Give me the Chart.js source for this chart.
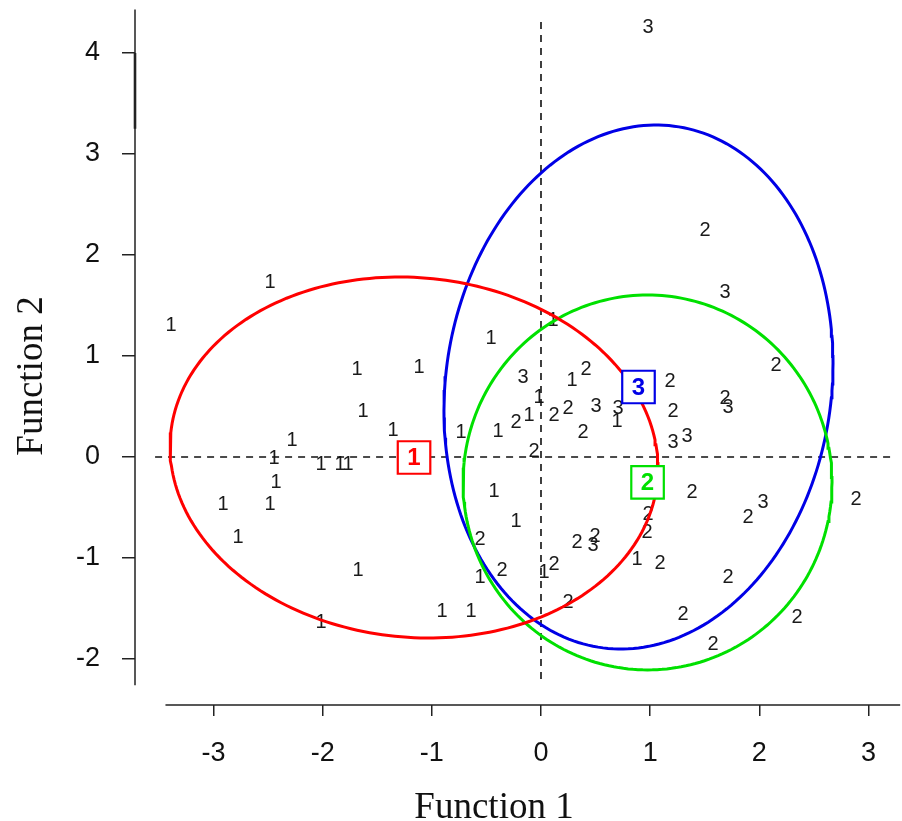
<!DOCTYPE html>
<html>
<head>
<meta charset="utf-8">
<title>Discriminant functions</title>
<script src="https://cdn.jsdelivr.net/npm/chart.js@4.4.1/dist/chart.umd.min.js"></script>
<style>
    html, body { margin: 0; padding: 0; background: #fff; }
    canvas { display: block; }
</style>
</head>
<body>
<canvas id="lda" width="902" height="821"></canvas>
<script>
// axis ticks
const xTicks = [-3, -2, -1, 0, 1, 2, 3];
const yTicks = [-2, -1, 0, 1, 2, 3, 4];

// case scores on the two discriminant functions, per group
const group1X = [-3.389, -2.482, -1.685, -1.118, -1.630, -1.356, -2.281, -2.446, -2.015, -1.841, -1.768,
    -2.427, -2.913, -2.482, -2.775, -1.676, -2.015, -0.907, -0.641, -0.733, -0.458, 0.110, -0.394,
    -0.110, -0.018, 0.284, 0.696, -0.431, -0.229, -0.559, 0.027, 0.879];
const group1Y = [1.307, 1.723, 0.871, 0.891, 0.455, 0.267, 0.168, -0.010, -0.079, -0.079, -0.079,
    -0.257, -0.475, -0.475, -0.792, -1.119, -1.634, -1.525, -1.525, 0.238, 1.178, 1.356, 0.248,
    0.416, 0.594, 0.762, 0.347, -0.337, -0.634, -1.188, -1.139, -1.010];

const group2X = [0.412, 0.247, 0.119, -0.229, 0.385, -0.064, 1.182, 1.209, 1.685, 2.153, 1.502,
    1.383, 0.980, 0.971, 1.090, -0.559, 0.330, 0.495, -0.357, 0.119, 0.247, 1.301, 1.896, 2.885,
    1.713, 2.345, 1.576];
const group2Y = [0.871, 0.485, 0.416, 0.337, 0.238, 0.050, 0.743, 0.446, 0.584, 0.911, 2.238,
    -0.347, -0.574, -0.743, -1.050, -0.812, -0.842, -0.782, -1.119, -1.069, -1.436, -1.564, -0.594,
    -0.416, -1.188, -1.584, -1.861];

const group3X = [0.980, 1.685, -0.165, 0.504, 0.705, 1.713, 1.209, 1.337, 0.476, 2.034];
const group3Y = [4.257, 1.624, 0.792, 0.505, 0.485, 0.495, 0.139, 0.208, -0.881, -0.446];

// group centroids and their 95% ellipses (half extents along x / y, tilt as correlation)
const groupNames = ['1', '2', '3'];
const groupColors = ['#ff0000', '#00e000', '#0000e6'];
const centroidX = [-1.163, 0.976, 0.893];
const centroidY = [-0.005, -0.252, 0.693];
const ellipseHalfW = [2.235, 1.69, 1.782];
const ellipseHalfH = [1.787, 1.856, 2.594];
const ellipseTilt = [-0.06, 0.0, 0.09];

// extents of the axis lines and reference lines
const xAxisSpan = [-3.44, 3.29];
const yAxisSpan = [-2.26, 4.43];
const xZeroSpan = [-3.535, 3.224];
const yZeroSpan = [-2.257, 4.307];

function ellipsePoints(i) {
    const d = Math.acos(ellipseTilt[i]);
    const pts = [];
    for (let k = 0; k <= 240; k++) {
        const t = k / 240 * Math.PI * 2;
        pts.push({
            x: centroidX[i] + ellipseHalfW[i] * Math.cos(t),
            y: centroidY[i] + ellipseHalfH[i] * Math.cos(t - d)
        });
    }
    return pts;
}

function toPoints(xs, ys) {
    return xs.map((x, i) => ({ x: x, y: ys[i] }));
}

const groupData = [toPoints(group1X, group1Y), toPoints(group2X, group2Y), toPoints(group3X, group3Y)];

const datasets = [];

groupData.forEach((pts, i) => {
    datasets.push({
        label: 'Group ' + groupNames[i],
        data: pts,
        pointRadius: 0,
        caseLabel: groupNames[i],
        order: 3
    });
});

groupNames.forEach((name, i) => {
    datasets.push({
        label: 'Ellipse ' + name,
        data: ellipsePoints(i),
        showLine: true,
        pointRadius: 0,
        borderColor: groupColors[i],
        borderWidth: 3,
        tension: 0,
        fill: false,
        order: 1
    });
});

datasets.push({
    label: 'x = 0',
    data: [{ x: 0, y: yZeroSpan[1] }, { x: 0, y: yZeroSpan[0] }],
    showLine: true, pointRadius: 0, borderColor: '#111', borderWidth: 1.6,
    borderDash: [7, 6], order: 2
});
datasets.push({
    label: 'y = 0',
    data: [{ x: xZeroSpan[0], y: 0 }, { x: xZeroSpan[1], y: 0 }],
    showLine: true, pointRadius: 0, borderColor: '#111', borderWidth: 1.6,
    borderDash: [7, 6], order: 2
});

groupNames.forEach((name, i) => {
    datasets.push({
        label: 'Centroid ' + name,
        data: [{ x: centroidX[i], y: centroidY[i] }],
        pointStyle: 'rect',
        pointRadius: 23,
        pointBorderWidth: 2.2,
        pointBorderColor: groupColors[i],
        pointBackgroundColor: '#ffffff',
        centroidLabel: name,
        centroidColor: groupColors[i],
        order: 0
    });
});

// digits for each case, drawn under the ellipses and boxes
const caseLabels = {
    id: 'caseLabels',
    beforeDatasetsDraw(chart) {
        const ctx = chart.ctx;
        ctx.save();
        ctx.font = '20px "Liberation Sans", Arial, sans-serif';
        ctx.fillStyle = '#1a1a1a';
        ctx.textAlign = 'center';
        ctx.textBaseline = 'middle';
        chart.data.datasets.forEach((ds, i) => {
            if (!ds.caseLabel) return;
            chart.getDatasetMeta(i).data.forEach(el => {
                ctx.fillText(ds.caseLabel, el.x, el.y);
            });
        });
        ctx.restore();
    },
    afterDatasetsDraw(chart) {
        const ctx = chart.ctx;
        ctx.save();
        ctx.font = 'bold 24px "Liberation Sans", Arial, sans-serif';
        ctx.textAlign = 'center';
        ctx.textBaseline = 'middle';
        chart.data.datasets.forEach((ds, i) => {
            if (!ds.centroidLabel) return;
            ctx.fillStyle = ds.centroidColor;
            chart.getDatasetMeta(i).data.forEach(el => {
                ctx.fillText(ds.centroidLabel, el.x, el.y + 1);
            });
        });
        ctx.restore();
    }
};

// detached axis lines and axis titles
const axisFrame = {
    id: 'axisFrame',
    afterDraw(chart) {
        const ctx = chart.ctx;
        const xs = chart.scales.x, ys = chart.scales.y;
        const area = chart.chartArea;
        ctx.save();
        ctx.strokeStyle = '#222';
        ctx.lineWidth = 1.5;
        ctx.beginPath();
        ctx.moveTo(area.left, ys.getPixelForValue(yAxisSpan[1]));
        ctx.lineTo(area.left, ys.getPixelForValue(yAxisSpan[0]));
        ctx.moveTo(xs.getPixelForValue(xAxisSpan[0]), area.bottom);
        ctx.lineTo(xs.getPixelForValue(xAxisSpan[1]), area.bottom);
        ctx.stroke();
        ctx.lineWidth = 2.6;
        ctx.beginPath();
        ctx.moveTo(area.left, ys.getPixelForValue(4));
        ctx.lineTo(area.left, ys.getPixelForValue(3.25));
        ctx.stroke();

        ctx.fillStyle = '#111';
        ctx.font = '37px "Liberation Serif", "Times New Roman", serif';
        ctx.textAlign = 'center';
        ctx.textBaseline = 'alphabetic';
        ctx.fillText('Function 1', 494, 818);
        ctx.translate(42, 376);
        ctx.rotate(-Math.PI / 2);
        ctx.fillText('Function 2', 0, 0);
        ctx.restore();
    }
};

new Chart(document.getElementById('lda'), {
    type: 'scatter',
    data: { datasets: datasets },
    options: {
        responsive: false,
        animation: false,
        devicePixelRatio: 1,
        layout: { autoPadding: false, padding: { top: 10, right: 2, left: 0, bottom: 0 } },
        plugins: {
            legend: { display: false },
            tooltip: { enabled: false }
        },
        scales: {
            x: {
                type: 'linear',
                min: -3.719,
                max: 3.2885,
                afterFit: axis => {
                    axis.height = 116;
                    axis.paddingLeft = 0;
                    axis.paddingRight = 0;
                },
                afterBuildTicks: axis => { axis.ticks = xTicks.map(v => ({ value: v })); },
                border: { display: false },
                grid: { drawOnChartArea: false, drawTicks: true, tickLength: 11, color: '#222', lineWidth: 1.5 },
                ticks: {
                    color: '#111',
                    padding: 21,
                    maxRotation: 0,
                    font: { family: '"Liberation Sans", Arial, sans-serif', size: 27 },
                    callback: v => String(v)
                }
            },
            y: {
                type: 'linear',
                min: -2.4554,
                max: 4.4257,
                afterFit: axis => {
                    axis.width = 135;
                    axis.paddingTop = 0;
                    axis.paddingBottom = 0;
                },
                afterBuildTicks: axis => { axis.ticks = yTicks.map(v => ({ value: v })); },
                border: { display: false },
                grid: { drawOnChartArea: false, drawTicks: true, tickLength: 13, color: '#222', lineWidth: 1.5 },
                ticks: {
                    color: '#111',
                    padding: 22,
                    font: { family: '"Liberation Sans", Arial, sans-serif', size: 27 },
                    callback: v => String(v)
                }
            }
        }
    },
    plugins: [caseLabels, axisFrame]
});
</script>
</body>
</html>
